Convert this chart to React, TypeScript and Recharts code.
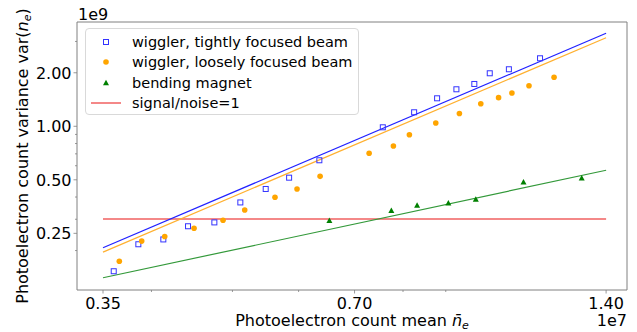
import { ScatterChart, Scatter, XAxis, YAxis, ReferenceArea } from 'recharts'

// photoelectron count mean (x) vs variance (y)
const tightX = [3.605e6, 3.858e6, 4.133e6, 4.424e6, 4.757e6, 5.11e6, 5.48e6, 5.845e6, 6.353e6, 7.567e6, 8.249e6, 8.788e6, 9.268e6, 9.737e6, 10.16e6, 10.71e6, 11.67e6]
const tightY = [0.153e9, 0.217e9, 0.231e9, 0.274e9, 0.288e9, 0.373e9, 0.444e9, 0.514e9, 0.644e9, 0.987e9, 1.199e9, 1.437e9, 1.615e9, 1.73e9, 1.987e9, 2.093e9, 2.413e9]

const looseX = [3.661e6, 3.894e6, 4.149e6, 4.498e6, 4.872e6, 5.172e6, 5.622e6, 5.974e6, 6.366e6, 7.287e6, 7.791e6, 8.142e6, 8.756e6, 9.345e6, 9.912e6, 10.41e6, 10.8e6, 11.32e6, 12.13e6]
const looseY = [0.174e9, 0.226e9, 0.24e9, 0.267e9, 0.296e9, 0.338e9, 0.399e9, 0.444e9, 0.523e9, 0.705e9, 0.775e9, 0.897e9, 1.044e9, 1.18e9, 1.34e9, 1.449e9, 1.539e9, 1.692e9, 1.889e9]

const bendX = [6.531e6, 7.747e6, 8.317e6, 9.065e6, 9.777e6, 11.15e6, 13.09e6]
const bendY = [0.294e9, 0.335e9, 0.359e9, 0.369e9, 0.388e9, 0.484e9, 0.51e9]

// fitted lines, end points
const fitX = [3.5e6, 14e6]
const tightFitY = [0.2075e9, 3.337e9]
const looseFitY = [0.196e9, 3.15e9]
const bendFitY = [0.1406e9, 0.566e9]
const snrY = [0.3008e9, 0.3008e9]

const xMajor = [3.5e6, 7e6, 14e6]
const xMinor = [4e6, 5e6, 6e6, 8e6, 9e6]
const yMajor = [0.25e9, 0.5e9, 1e9, 2e9]
const yMinor = [0.2e9, 0.3e9, 0.4e9, 0.6e9, 0.7e9, 0.8e9, 0.9e9, 3e9]

const X_DOMAIN = [3.258e6, 14.83e6]
const Y_DOMAIN = [0.12e9, 3.86e9]

const zip = (xs: number[], ys: number[]) => xs.map((x, i) => ({ x, y: ys[i] }))

const FONT = 'DejaVu Sans, sans-serif'
const AXIS = '#808080'

const XTick = (props: any) => {
  const { x, y, payload } = props
  const major = xMajor.includes(payload.value)
  return (
    <g>
      <line x1={x} x2={x} y1={y} y2={y + (major ? 3.5 : 2)} stroke={AXIS} strokeWidth={0.8} />
      {major && (
        <text x={x} y={y + 18.5} textAnchor="middle" fontSize={16} fontFamily={FONT} fill="#000">
          {(payload.value / 1e7).toFixed(2)}
        </text>
      )}
    </g>
  )
}

const YTick = (props: any) => {
  const { x, y, payload } = props
  const major = yMajor.includes(payload.value)
  return (
    <g>
      <line x1={x} x2={x - (major ? 3.5 : 2)} y1={y} y2={y} stroke={AXIS} strokeWidth={0.8} />
      {major && (
        <text x={x - 5.5} y={y + 5.8} textAnchor="end" fontSize={16} fontFamily={FONT} fill="#000">
          {(payload.value / 1e9).toFixed(2)}
        </text>
      )}
    </g>
  )
}

const square = (p: any) => (
  <rect x={p.cx - 2.5} y={p.cy - 2.5} width={5} height={5} fill="none" stroke="#3333ff" strokeWidth={1} />
)
const dot = (p: any) => <circle cx={p.cx} cy={p.cy} r={2.8} fill="#ffa500" />
const tri = (p: any) => (
  <polygon points={`${p.cx},${p.cy - 3.2} ${p.cx - 3},${p.cy + 2.3} ${p.cx + 3},${p.cy + 2.3}`} fill="#008000" />
)
const none = () => <g />

export default function App() {
  return (
    <div style={{ position: 'absolute', left: 0, top: 0, width: 637, height: 332, background: '#fff' }}>
      <ScatterChart width={637} height={332} margin={{ top: 22, right: 10, bottom: 0, left: 0 }}>
        <XAxis dataKey="x" type="number" scale="log" domain={X_DOMAIN} allowDataOverflow
          ticks={[...xMajor, ...xMinor]} interval={0} tick={<XTick />} tickLine={false}
          tickSize={0} tickMargin={0} height={42} axisLine={false} />
        <YAxis dataKey="y" type="number" scale="log" domain={Y_DOMAIN} allowDataOverflow
          ticks={[...yMajor, ...yMinor]} interval={0} tick={<YTick />} tickLine={false}
          tickSize={0} tickMargin={0} width={77} axisLine={false} />
        <Scatter data={zip(fitX, snrY)} line={{ stroke: '#f06060', strokeWidth: 1.5 }} shape={none} isAnimationActive={false} />
        <Scatter data={zip(fitX, tightFitY)} line={{ stroke: '#2222ff', strokeWidth: 1.2 }} shape={none} isAnimationActive={false} />
        <Scatter data={zip(fitX, looseFitY)} line={{ stroke: '#ffb030', strokeWidth: 1.2 }} shape={none} isAnimationActive={false} />
        <Scatter data={zip(fitX, bendFitY)} line={{ stroke: '#33993a', strokeWidth: 1.2 }} shape={none} isAnimationActive={false} />
        <Scatter data={zip(tightX, tightY)} shape={square} isAnimationActive={false} />
        <Scatter data={zip(looseX, looseY)} shape={dot} isAnimationActive={false} />
        <Scatter data={zip(bendX, bendY)} shape={tri} isAnimationActive={false} />
        <ReferenceArea x1={X_DOMAIN[0]} x2={X_DOMAIN[1]} y1={Y_DOMAIN[0]} y2={Y_DOMAIN[1]}
          fill="none" fillOpacity={0} stroke={AXIS} strokeWidth={1} ifOverflow="visible" />
      </ScatterChart>

      <svg width={637} height={332} style={{ position: 'absolute', left: 0, top: 0, pointerEvents: 'none' }}>
        <text x={78} y={20} fontSize={16} fontFamily={FONT}>1e9</text>
        <text x={627} y={326} textAnchor="end" fontSize={16} fontFamily={FONT}>1e7</text>
        <text x={352} y={326} textAnchor="middle" fontSize={16} fontFamily={FONT}>
          Photoelectron count mean <tspan fontStyle="italic">n̄</tspan>
          <tspan fontStyle="italic" fontSize={11} dy={3}>e</tspan>
        </text>
        <text transform="translate(28,156) rotate(-90)" textAnchor="middle" fontSize={16} fontFamily={FONT}>
          Photoelectron count variance var(<tspan fontStyle="italic">n</tspan>
          <tspan fontStyle="italic" fontSize={11} dy={3}>e</tspan>
          <tspan dy={-3}>)</tspan>
        </text>
      </svg>

      <div style={{
        position: 'absolute', left: 85, top: 28, width: 272, height: 85, border: '1px solid #d9d9d9',
        borderRadius: 4, background: 'rgba(255,255,255,0.8)', fontFamily: FONT, fontSize: 14.5,
      }}>
        {[
          { label: 'wiggler, tightly focused beam', kind: 'square' },
          { label: 'wiggler, loosely focused beam', kind: 'dot' },
          { label: 'bending magnet', kind: 'tri' },
          { label: 'signal/noise=1', kind: 'line' },
        ].map((e, i) => (
          <div key={e.label} style={{ position: 'absolute', left: 0, top: 3 + i * 20.3, height: 20, display: 'flex', alignItems: 'center' }}>
            <svg width={46} height={20}>
              {e.kind === 'square' && <rect x={17.5} y={7.5} width={5} height={5} fill="none" stroke="#3333ff" />}
              {e.kind === 'dot' && <circle cx={20} cy={10} r={2.8} fill="#ffa500" />}
              {e.kind === 'tri' && <polygon points="20,6.8 17,12.3 23,12.3" fill="#008000" />}
              {e.kind === 'line' && <line x1={5} x2={35} y1={10} y2={10} stroke="#f06060" strokeWidth={1.5} />}
            </svg>
            <span style={{ whiteSpace: 'nowrap' }}>{e.label}</span>
          </div>
        ))}
      </div>
    </div>
  )
}
